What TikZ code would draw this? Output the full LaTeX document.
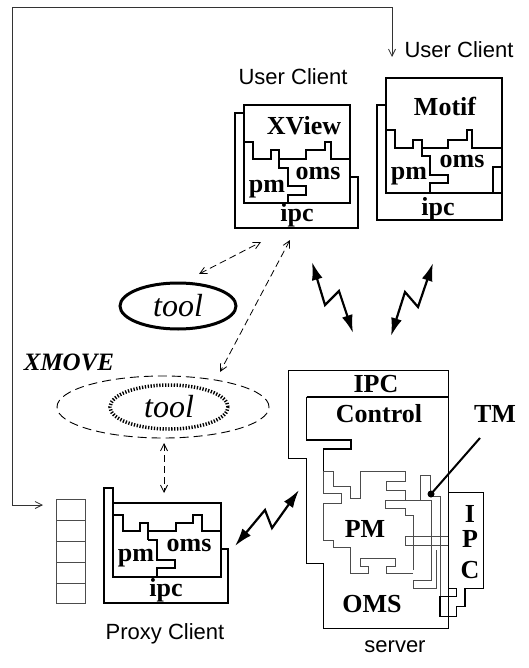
\documentclass[tikz,border=0pt]{standalone}
\usepackage{fontspec}
\setmainfont{Liberation Serif}
\setsansfont{Liberation Sans}
\usetikzlibrary{arrows.meta,shapes.geometric}

\begin{document}
\begin{tikzpicture}[x=1pt,y=-1pt,line width=1.1pt,
  lbl/.style={font=\sffamily\fontsize{22}{24}\selectfont},
  part/.style={font=\bfseries\fontsize{26}{28}\selectfont,anchor=base,inner sep=0pt},
  tooltext/.style={font=\itshape\fontsize{32}{34}\selectfont},
  bolt/.style={line width=2.2pt,{Latex[length=18pt,width=11pt]}-{Latex[length=18pt,width=11pt]}},
  link/.style={line width=0.8pt,dash pattern=on 7pt off 4pt,{Straight Barb[length=7pt,width=7pt]}-{Straight Barb[length=7pt,width=7pt]}},
  piece/.style={black!70,line width=1pt}]
\useasboundingbox (0,0) rectangle (528,668);

% labels
\node[lbl] (uc1) at (293,77) {User Client};
\node[lbl] (uc2) at (459,50) {User Client};
\node[lbl] (proxy) at (165,634) {Proxy Client};
\node[lbl] (server) at (395,647) {server};

% XView client
\begin{scope}[shift={(244,105)}]
\draw (0,0) rectangle (106,98);
\draw (0,8) -- (-9,8) -- (-9,123) -- (114,123) -- (114,72) -- (106,72);
\draw (0,37) -- (9,37) -- (9,54) -- (27,54) -- (27,45) -- (35,45) -- (35,54) -- (62,54)
  -- (62,45) -- (81,45) -- (81,37) -- (87,37) -- (87,54) -- (106,54);
\draw (35,54) -- (35,63) -- (44,63) -- (44,81) -- (62,81) -- (62,90) -- (44,90) -- (44,98);
\node[part] (xview) at (60,30) {XView};
\node[part] (xvpm) at (23,88) {pm};
\node[part] (xvoms) at (74,75) {oms};
\node[part] (xvipc) at (53,116) {ipc};
\end{scope}

% Motif client
\begin{scope}[shift={(386,78)}]
\draw (0,0) rectangle (116,115);
\draw (0,27) -- (-9,27) -- (-9,142) -- (116,142) -- (116,89) -- (107,89) -- (107,115);
\draw (0,52) -- (9,52) -- (9,70) -- (27,70) -- (27,62) -- (36,62) -- (36,70) -- (62,70)
  -- (62,62) -- (81,62) -- (81,52) -- (86,52) -- (86,70) -- (116,70);
\draw (36,70) -- (36,78) -- (44,78) -- (44,97) -- (62,97) -- (62,105) -- (44,105) -- (44,115);
\node[part] (motif) at (59,38) {Motif};
\node[part] (mopm) at (23,102) {pm};
\node[part] (mooms) at (76,90) {oms};
\node[part] (moipc) at (52,137) {ipc};
\end{scope}

% Proxy client
\begin{scope}[shift={(113,503)}]
\draw (0,0) rectangle (108,74);
\draw (0,0) -- (0,-15) -- (-9,-15) -- (-9,100) -- (115,100) -- (115,46) -- (108,46);
\draw (0,12) -- (10,12) -- (10,28) -- (27,28) -- (27,20) -- (35,20) -- (35,37);
\draw (35,28) -- (63,28) -- (63,20) -- (80,20) -- (80,12) -- (89,12) -- (89,28) -- (108,28);
\draw (35,37) -- (44,37) -- (44,57) -- (62,57) -- (62,65) -- (44,65) -- (44,74);
\node[part] (pxpm) at (23,58) {pm};
\node[part] (pxoms) at (76,48) {oms};
\node[part] (pxipc) at (53,93) {ipc};
\end{scope}

% queue
\node[draw,piece,minimum width=29pt,minimum height=104pt,inner sep=0pt] (queue) at (70.5,551) {};
\foreach \y in {520,541,562,583}
  \draw[piece] (56,\y) -- (85,\y);

% loop back to the proxy
\coordinate (ucin) at (392,57);
\coordinate (qin) at (43,505);
\draw[black!80,line width=0.8pt,{Straight Barb[length=7pt,width=7pt]}-{Straight Barb[length=7pt,width=7pt]}]
  (ucin) -- (392,7) -- (12,7) |- (qin);

% tools
\node[ellipse,draw,dash pattern=on 9pt off 5pt,line width=0.9pt,minimum width=212pt,minimum height=62pt] (xmove) at (163,407) {};
\node[ellipse,draw,line width=3.5pt,dash pattern=on 1.3pt off 1.6pt,minimum width=118pt,minimum height=44pt,inner sep=0pt,tooltext] (tool2) at (169,407) {tool};
\node[ellipse,draw,line width=3pt,minimum width=116pt,minimum height=46pt,inner sep=0pt,tooltext] (tool1) at (178,306) {tool};
\node[font=\bfseries\itshape\fontsize{25}{27}\selectfont,anchor=base,inner sep=0pt] (xmlbl) at (69,370) {XMOVE};

\coordinate (xvtip) at (261,242);
\coordinate (t1tip) at (199,274);
\draw[link] (t1tip) -- (xvtip);
\coordinate (xvtip2) at (290,240);
\coordinate (t2tip) at (220,372);
\draw[link] (xvtip2) -- (t2tip);
\coordinate (xmtip) at (164,443);
\coordinate (pxtip) at (164,493);
\draw[link] (xmtip) -- (pxtip);

% wireless links
\coordinate (b1a) at (312,262);
\coordinate (b1b) at (353,333);
\draw[bolt] (b1a) -- (325,305) -- (339,291) -- (b1b);
\coordinate (b2a) at (433,263);
\coordinate (b2b) at (391,336);
\draw[bolt] (b2a) -- (418,307) -- (405,292) -- (b2b);
\coordinate (b3a) at (235,546);
\coordinate (b3b) at (299,490);
\draw[bolt] (b3a) -- (265,510) -- (272,528) -- (b3b);

% server
\begin{scope}[shift={(270,350)},scale=1/3]
\draw (55,62) -- (535,62) -- (535,835) -- (160,835) -- (160,640) -- (110,640) -- (110,325) -- (55,325) -- cycle;
\draw[line width=2pt] (110,140) -- (535,140);
\draw (110,140) -- (110,270) -- (243,270) -- (243,297) -- (160,297) -- (160,365);
\draw[piece] (160,365) -- (160,430) -- (215,430) -- (215,460) -- (160,460) -- (160,570)
  -- (190,570) -- (190,592) -- (240,592) -- (240,670) -- (295,670) -- (295,650) -- (270,650)
  -- (270,625) -- (375,625) -- (375,650) -- (350,650) -- (350,670) -- (430,670);
\draw[piece] (160,365) -- (190,365) -- (190,410) -- (240,410) -- (240,445) -- (270,445)
  -- (270,365) -- (405,365) -- (405,395) -- (350,395) -- (350,420) -- (405,420) -- (405,450);
\draw[piece] (450,450) -- (450,375) -- (480,375) -- (480,440) -- (510,440) -- (510,750);
\draw[piece] (485,690) -- (485,450) -- (345,450) -- (345,475) -- (405,475) -- (405,495)
  -- (430,495) -- (430,660);
\draw[piece] (485,690) -- (430,690) -- (430,715) -- (500,715) -- (500,600);
\draw[piece] (535,560) -- (405,560) -- (405,585) -- (535,585);
\draw (535,428) -- (640,428) -- (640,715) -- (585,715) -- (585,770) -- (560,770) -- (560,800)
  -- (510,800) -- (510,740) -- (560,740) -- (560,715) -- (535,715);
\end{scope}
\node[part] (ipc) at (376,392) {IPC};
\node[part] (ctl) at (379,422) {Control};
\node[part] (tm) at (495,422) {TM};
\node[part] (pm) at (365,537) {PM};
\node[part] (oms) at (372,612) {OMS};
\node[part] (ipcI) at (470,522) {I};
\node[part] (ipcP) at (470,547) {P};
\node[part] (ipcC) at (470,578) {C};
\coordinate (tmtail) at (480,438);
\coordinate (tmdot) at (431,494);
\draw[line width=2pt] (tmtail) -- (tmdot);
\fill (tmdot) circle (3.5);
\end{tikzpicture}
\end{document}
